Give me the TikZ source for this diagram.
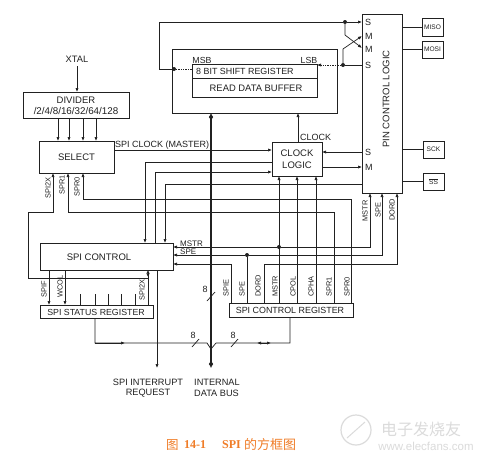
\documentclass[tikz,border=0pt]{standalone}
\usepackage{fontspec}
\setmainfont{Liberation Sans}
\newfontfamily\cjkfont{Noto Sans CJK SC}
\newfontfamily\capserif{Liberation Serif}
\usetikzlibrary{arrows.meta}
\definecolor{ink}{gray}{0.13}
\definecolor{capcol}{RGB}{240,125,40}
\definecolor{wmark}{gray}{0.86}
\newcommand{\myfs}[1]{\fontsize{#1}{#1}\selectfont}
\tikzset{
  box/.style={draw=ink, line width=0.8pt, inner sep=0pt, outer sep=0pt, anchor=north west},
  ln/.style={draw=ink, line width=0.7pt},
  arr/.style={ln, -{Latex[length=4pt,width=3.2pt]}},
  bus/.style={draw=ink, line width=1.8pt},
  lbl/.style={inner sep=0pt, text=ink, font=\myfs{9.3}},
  sml/.style={inner sep=0pt, text=ink, font=\myfs{8}},
  rot/.style={inner sep=0pt, text=ink, font=\myfs{7.4}, rotate=90},
  pinlbl/.style={inner sep=0pt, text=ink, font=\myfs{6.6}},
  jdot/.style={circle, fill=ink, inner sep=0pt, minimum size=4pt},
}
\begin{document}
\begin{tikzpicture}[x=1pt,y=-1pt]
\useasboundingbox (0,0) rectangle (484,461);
\fill[white] (0,0) rectangle (484,461);

% ---------- boxes ----------
\node[lbl] (xtal) at (77,59) {XTAL};
\node[box, minimum width=106pt, minimum height=26pt] (div) at (23,92) {};
\node[lbl, font=\myfs{9.5}] at (76,100) {DIVIDER};
\node[lbl, font=\myfs{9.8}] at (76,111) {/2/4/8/16/32/64/128};
\node[box, minimum width=75pt, minimum height=32pt] (sel) at (39,141) {};
\node[lbl, font=\myfs{9.5}] at (sel.center) {SELECT};

\node[box, minimum width=165pt, minimum height=64pt] (big) at (172,49) {};
\node[box, minimum width=125pt, minimum height=33pt] (sr) at (192,64) {};
\draw[ln] (sr.west |- 0,78) -- (sr.east |- 0,78);
\node[lbl, font=\myfs{8.9}, anchor=west] at (196,71) {8 BIT SHIFT REGISTER};
\node[lbl, font=\myfs{9.4}] at (256,88) {READ DATA BUFFER};
\node[lbl, font=\myfs{8.8}] at (202,60) {MSB};
\node[lbl, font=\myfs{8.8}] at (309,60) {LSB};

\node[box, minimum width=50pt, minimum height=34pt] (clk) at (272,142) {};
\node[lbl, font=\myfs{9.5}] at (297,153) {CLOCK};
\node[lbl, font=\myfs{9.5}] at (297,165) {LOGIC};
\node[lbl, font=\myfs{9}, anchor=west] at (300,137) {CLOCK};

\node[box, minimum width=40pt, minimum height=179pt] (pin) at (362,14) {};
\node[lbl, rotate=90, font=\myfs{9.5}] at (386,99) {PIN CONTROL LOGIC};
\foreach \yy/\tt in {22/S,36/M,49/M,65/S,152/S,167/M}
  \node[lbl, font=\myfs{9}, anchor=west] at (365,\yy) {\tt};

\node[box, minimum width=21pt, minimum height=18pt] (miso) at (422,18) {};
\node[pinlbl] at (miso.center) {MISO};
\node[box, minimum width=21pt, minimum height=17pt] (mosi) at (422,41) {};
\node[pinlbl] at (mosi.center) {MOSI};
\node[box, minimum width=21pt, minimum height=17pt] (sck) at (423,141) {};
\node[pinlbl] at (sck.center) {SCK};
\node[box, minimum width=21pt, minimum height=17pt] (ss) at (423,173) {};
\node[pinlbl] at (ss.center) {\(\overline{\mbox{SS}}\)};

\node[box, minimum width=133pt, minimum height=27pt] (ctl) at (40,243) {};
\node[lbl, font=\myfs{9.5}] at (99,257) {SPI CONTROL};
\node[box, minimum width=113pt, minimum height=13pt] (stat) at (40,305) {};
\node[lbl, font=\myfs{8.8}] at (96,312) {SPI STATUS REGISTER};
\node[box, minimum width=124pt, minimum height=14pt] (creg) at (229,303) {};
\node[lbl, font=\myfs{8.9}] at (290,310) {SPI CONTROL REGISTER};

\coordinate (irq) at (157,368);
\coordinate (busend) at (211,368);

% ---------- labels ----------
\node[lbl, font=\myfs{9}, anchor=west] at (115,145) {SPI CLOCK (MASTER)};
\node[rot, anchor=east] at (48,177) {SPI2X};
\node[rot, anchor=east] at (62,175) {SPR1};
\node[rot, anchor=east] at (77,177) {SPR0};
\node[rot, anchor=west] at (44,298) {SPIF};
\node[rot, anchor=west] at (60,298) {WCOL};
\node[rot, anchor=west] at (142,301) {SPI2X};
\foreach \xx/\tt in {226/SPIE,242/SPE,258/DORD,275/MSTR,293/CPOL,311/CPHA,329/SPR1,347/SPR0}
  \node[rot, anchor=west] at (\xx,297) {\tt};
\node[rot, anchor=east] at (365,200) {MSTR};
\node[rot, anchor=east] at (378,202) {SPE};
\node[rot, anchor=east] at (392,199) {DORD};
\node[sml, anchor=west] at (180,243.5) {MSTR};
\node[sml, anchor=west] at (180,251.5) {SPE};

% ---------- connectors ----------
\draw[arr] ([yshift=-4pt]xtal.south) -- (xtal.south |- div.north);
\foreach \xx in {58,69,83,96}
  \draw[arr] (\xx,0 |- div.south) -- (\xx,0 |- sel.north);
\draw[arr] (sel.east |- 0,150) -- (clk.west |- 0,150);
\draw[arr] (clk.west |- 0,162) -- (145,162) -- (145,0 |- ctl.north);
\draw[arr] (155,0 |- ctl.north) -- (155,172) -- (clk.west |- 0,172);
\draw[arr] (pin.west |- 0,184) -- (165,184) -- (165,0 |- ctl.north);
\draw[arr] (351,0 |- creg.north) -- (351,199) -- (83,199) -- (83,0 |- sel.south);
\draw[arr] (334,0 |- creg.north) -- (334,212) -- (68,212) -- (68,0 |- sel.south);
\draw[arr] (148,278) -- (28,278) -- (28,212) -- (53,212) -- (53,0 |- sel.south);
\draw[ln, -{Latex[length=3.5pt,width=3.5pt,reversed]Latex[length=3.5pt,width=3.5pt]}] (148,0 |- stat.north) -- (148,0 |- ctl.south);

\node[jdot] (dmstr) at (279,247) {};
\draw[arr] (279,0 |- creg.north) -- (279,0 |- clk.south);
\draw[arr] (dmstr) -- (ctl.east |- dmstr);
\draw[arr] (dmstr) -- (370,247) -- (370,0 |- pin.south);
\node[jdot] (dspe) at (247,255) {};
\draw[ln] (247,0 |- creg.north) -- (dspe);
\draw[arr] (dspe) -- (ctl.east |- dspe);
\draw[arr] (dspe) -- (382,255) -- (382,0 |- pin.south);
\draw[arr] (264,0 |- creg.north) -- (264,264) -- (397,264) -- (397,0 |- pin.south);
\draw[arr] (231,0 |- creg.north) -- (231,264) -- (ctl.east |- 0,264);
\draw[arr] (297,0 |- creg.north) -- (297,0 |- clk.south);
\draw[arr] (316,0 |- creg.north) -- (316,0 |- clk.south);

\draw[arr] (pin.west |- 0,152) -- (clk.east |- 0,152);
\draw[arr] (clk.east |- 0,167) -- (pin.west |- 0,167);
\draw[arr] (298,0 |- clk.north) -- (298,0 |- big.south);

% shift register MSB / LSB paths
\node[jdot] (dmsb) at (174,69) {};
\draw[ln, densely dotted] (sr.west |- dmsb) -- (dmsb);
\node[jdot] (dtop) at (345,22) {};
\draw[ln] (dmsb) -- (159,69) -- (159,22) -- (dtop);
\draw[arr] (dtop) -- (pin.west |- dtop);
\draw[arr] (dtop) -- (345,35) -- (pin.west |- 0,48);
\node[jdot] (dlsb) at (343,65) {};
\draw[arr, densely dotted] (dlsb) -- (sr.east |- dlsb);
\draw[ln] (dlsb) -- (pin.west |- dlsb);
\draw[arr] (dlsb) -- (343,49) -- (pin.west |- 0,36);

% pins
\draw[ln] (pin.east |- miso.west) -- (miso.west);
\draw[ln] (pin.east |- mosi.west) -- (mosi.west);
\draw[ln] (pin.east |- sck.west) -- (sck.west);
\draw[ln] (pin.east |- ss.west) -- (ss.west);

% status register
\draw[arr] (49,0 |- ctl.south) -- (49,0 |- stat.north);
\draw[arr] (65,0 |- ctl.south) -- (65,0 |- stat.north);
\foreach \xx in {80,95,108,121,135}
  \draw[ln] (\xx,294) -- (\xx,0 |- stat.north);
\draw[arr] (157,0 |- ctl.south) -- (irq);

% internal data bus
\draw[bus, {Latex[length=4pt,width=4.5pt]Latex[length=4pt,width=4.5pt,reversed]}-{Latex[length=4pt,width=4.5pt,reversed]Latex[length=4pt,width=4.5pt]}] (211,0 |- big.south) -- (busend);
\draw[ln] (207,301) -- (215,292);
\node[lbl, font=\myfs{9}] at (205,289) {8};

\draw[ln] (95,0 |- stat.south) -- (95,343) -- (207,343) -- (211,349) -- (216,343) -- (290,343) -- (290,0 |- creg.south);
\draw[arr] (95,343) -- (125,343);
\draw[ln, {Latex[length=4pt,width=3.2pt]}-{Latex[length=4pt,width=3.2pt]}] (257,343) -- (271,343);
\draw[ln] (192,347) -- (199,339);
\node[lbl, font=\myfs{9}] at (193,335) {8};
\draw[ln] (231,347) -- (238,339);
\node[lbl, font=\myfs{9}] at (233,335) {8};

\node[lbl, font=\myfs{9.2}] at (148,382) {SPI INTERRUPT};
\node[lbl, font=\myfs{9.2}] at (148,393) {REQUEST};
\node[lbl, font=\myfs{9.2}, anchor=west] at (194,382) {INTERNAL};
\node[lbl, font=\myfs{9.2}, anchor=west] at (194,393) {DATA BUS};

% caption
\node[anchor=west, inner sep=0pt, text=capcol, font=\cjkfont\myfs{12.5}] at (166,445) {图};
\node[anchor=west, inner sep=0pt, text=capcol, font=\capserif\bfseries\myfs{12}] at (184,445) {14-1};
\node[anchor=west, inner sep=0pt, text=capcol, font=\capserif\bfseries\myfs{12}] at (222,445) {SPI};
\node[anchor=west, inner sep=0pt, text=capcol, font=\cjkfont\myfs{13}] at (244,445) {的方框图};

% watermark
\draw[wmark, line width=1.2pt] (356,430) circle (15);
\draw[wmark, line width=1pt] (347,438) -- (365,422);
\node[text=wmark, inner sep=0pt, font=\cjkfont\myfs{16}] at (421,429) {电子发烧友};
\node[text=wmark, inner sep=0pt, font=\myfs{11.5}] at (426,446) {www.elecfans.com};
\end{tikzpicture}
\end{document}
